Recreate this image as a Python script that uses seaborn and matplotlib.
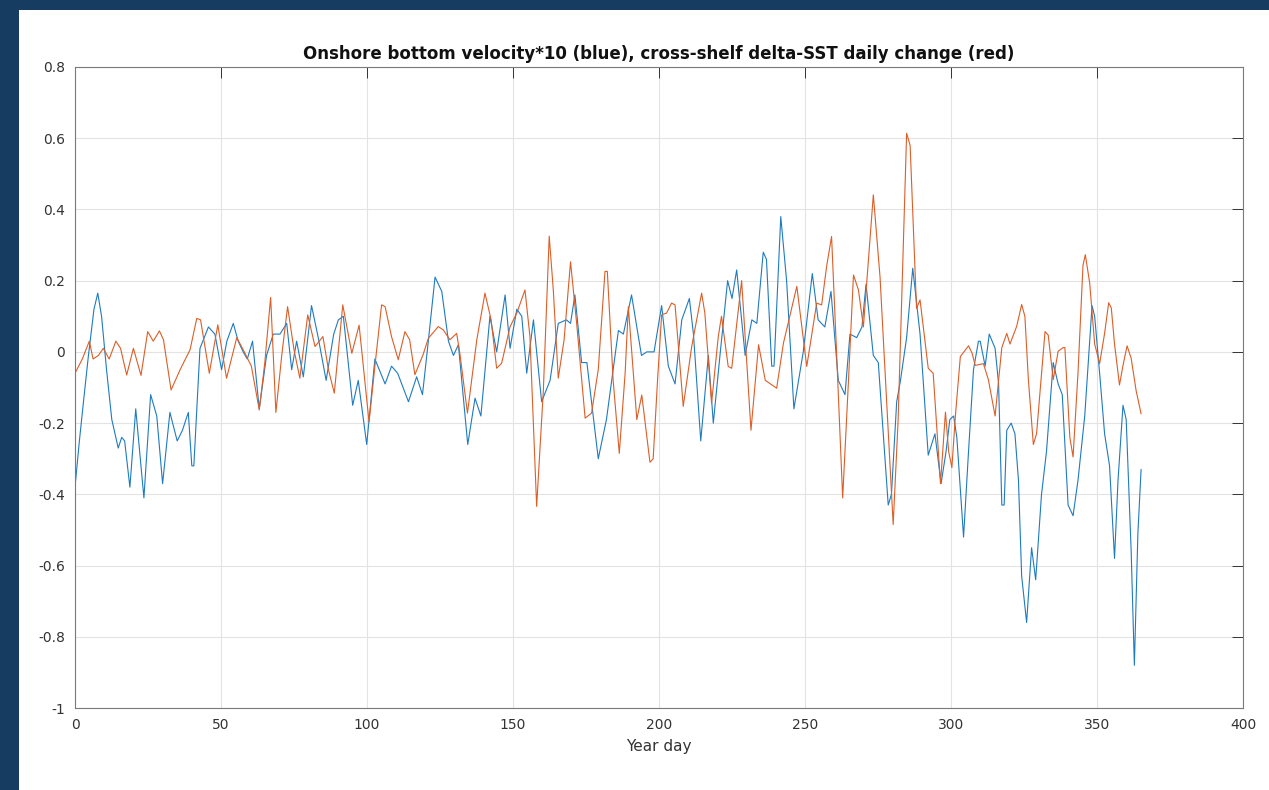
import numpy as np
import pandas as pd
import matplotlib
matplotlib.use("Agg")
import matplotlib.pyplot as plt
import seaborn as sns
from matplotlib.patches import Rectangle
from matplotlib.ticker import FuncFormatter

# ---------------- data ----------------
blue_day = [0, 1.5, 2.9, 4.6, 6.5, 7.8, 9.1, 10.8, 12.6, 14.8, 16, 17, 18.8, 20.8, 23.6, 25.9, 28, 30,
            32.5, 35, 36.8, 38.8, 40, 40.7, 42.8, 45.7, 47.9, 50.2, 52, 54.2, 55.9, 57.6, 59, 60.8,
            63.1, 65.6, 67.9, 70.2, 72.5, 74.2, 75.9, 78.2, 81, 83.3, 86, 88.6, 90.2, 91.9, 95.1, 97,
            99.9, 102.7, 106.2, 108.4, 110.5, 114.2, 117, 119, 121, 123.3, 125.6, 127.9, 129.6, 131.3,
            134.5, 137, 139, 142.1, 144.4, 147.3, 149, 151.3, 153, 154.7, 157, 159.8, 162.7, 165.5,
            168.3, 169.7, 171.2, 173.5, 175.3, 179.2, 182, 186.1, 187.8, 190.6, 194, 195.8, 198.3,
            200.9, 203.2, 205.5, 207.8, 210.4, 211.8, 214.3, 216.9, 218.6, 221, 223.5, 225, 226.6,
            229.5, 231.8, 233.5, 235.7, 236.8, 238.6, 239.4, 241.7, 243.7, 246.2, 249.4, 252.5, 254.5,
            256.8, 258.9, 261.4, 263.7, 265.4, 267.7, 269.5, 270.9, 273.4, 275.1, 278.5, 279.6, 281.4,
            282.7, 284.8, 286.9, 289.4, 292.2, 294.5, 296.6, 298.3, 299.6, 300.9, 302, 304.3, 306,
            307.7, 309.4, 310, 311.7, 313.1, 315.1, 316.3, 317.4, 318.2, 319.1, 320.6, 321.9, 323.1,
            324.2, 325.9, 327.6, 329, 331, 332.7, 335, 336.7, 338.1, 340.1, 341.8, 343.5, 345.8,
            348.3, 349.2, 350.9, 352.6, 354.3, 356, 357.2, 358.9, 360, 361.7, 362.8, 364, 365.1]
blue_val = [-0.38, -0.25, -0.14, -0.01, 0.12, 0.165, 0.10, -0.05, -0.19, -0.27, -0.24, -0.25, -0.38,
            -0.16, -0.41, -0.12, -0.18, -0.37, -0.17, -0.25, -0.22, -0.17, -0.32, -0.32, 0.01, 0.07,
            0.05, -0.05, 0.03, 0.08, 0.03, 0.0, -0.02, 0.03, -0.16, -0.01, 0.05, 0.05, 0.08, -0.05,
            0.03, -0.07, 0.13, 0.04, -0.08, 0.05, 0.09, 0.10, -0.15, -0.08, -0.26, -0.02, -0.09,
            -0.04, -0.06, -0.14, -0.07, -0.12, 0.03, 0.21, 0.17, 0.03, -0.01, 0.02, -0.26, -0.13,
            -0.18, 0.10, 0.0, 0.16, 0.01, 0.12, 0.10, -0.06, 0.09, -0.14, -0.08, 0.08, 0.09, 0.08,
            0.16, -0.03, -0.03, -0.30, -0.19, 0.06, 0.05, 0.16, -0.01, 0.0, 0.0, 0.13, -0.04, -0.09,
            0.09, 0.15, 0.05, -0.25, -0.01, -0.20, 0.0, 0.20, 0.15, 0.23, -0.01, 0.09, 0.08, 0.28,
            0.26, -0.04, -0.04, 0.38, 0.20, -0.16, 0.0, 0.22, 0.09, 0.07, 0.17, -0.08, -0.12, 0.05,
            0.04, 0.07, 0.19, -0.01, -0.03, -0.43, -0.40, -0.14, -0.08, 0.04, 0.235, 0.05, -0.29,
            -0.23, -0.37, -0.28, -0.19, -0.18, -0.24, -0.52, -0.28, -0.05, 0.03, 0.03, -0.04, 0.05,
            0.01, -0.09, -0.43, -0.43, -0.22, -0.20, -0.23, -0.36, -0.63, -0.76, -0.55, -0.64, -0.40,
            -0.28, -0.03, -0.09, -0.12, -0.43, -0.46, -0.36, -0.18, 0.13, 0.10, -0.06, -0.23, -0.32,
            -0.58, -0.36, -0.15, -0.19, -0.56, -0.88, -0.51, -0.33]

red_day = [0, 2.5, 4.9, 6.2, 8, 9.7, 11.7, 14, 15.6, 17.7, 20, 22.6, 24.9, 26.8, 28.9, 30.3, 32.9, 36,
           39.4, 41.7, 43, 46, 48.9, 51.9, 55.4, 57.6, 60.4, 63.1, 65, 67, 68.8, 70.8, 72.8, 75, 77,
           79.7, 82.2, 84.9, 86.8, 88.8, 91.7, 94.8, 97.3, 100.7, 102.7, 105, 106.2, 108.4, 110.7,
           113, 114.6, 116.4, 119.2, 121, 124.4, 126.1, 128.4, 130.7, 131.8, 134.4, 137.6, 140.4,
           142.5, 144.4, 146.1, 149, 151.3, 154.1, 155.8, 158.1, 160.4, 162.4, 163.8, 165.5, 167.5,
           169.7, 171.8, 174.7, 176.9, 179.2, 181.5, 182.3, 184.3, 186.4, 188.4, 189.5, 192.4, 194.1,
           196.9, 198, 199.5, 200.9, 202.6, 204.3, 205.5, 208.3, 211.2, 214.6, 215.7, 218, 220.3,
           221.4, 223.7, 224.9, 228.3, 231.5, 234.1, 236.4, 240.3, 242.6, 247.2, 250.6, 254, 255.7,
           257.4, 259.1, 260.8, 262.9, 264.8, 266.6, 268.3, 270, 273.4, 275.7, 280.2, 281.9, 284.8,
           286, 288.2, 289.4, 292.2, 293.9, 296.4, 298.1, 299.2, 300.3, 301.5, 303.2, 306, 307.2,
           308.3, 311.1, 312.8, 315.1, 317.4, 319.1, 320.2, 322.5, 324.2, 325.3, 326.5, 328.2, 329.3,
           332.2, 333.3, 335, 336.7, 338.4, 339, 340.7, 341.8, 343.5, 345.2, 346, 347.5, 349.2,
           350.9, 352.6, 354, 354.9, 356, 357.7, 358.9, 360.3, 361.7, 363.4, 365.1]
red_val = [-0.06, -0.02, 0.03, -0.02, -0.01, 0.01, -0.02, 0.03, 0.01, -0.065, 0.01, -0.066, 0.057,
           0.03, 0.059, 0.034, -0.107, -0.05, 0.006, 0.094, 0.09, -0.06, 0.076, -0.074, 0.04, 0.006,
           -0.04, -0.163, -0.03, 0.153, -0.17, -0.01, 0.127, 0.006, -0.074, 0.104, 0.015, 0.043,
           -0.05, -0.116, 0.132, -0.004, 0.075, -0.197, -0.04, 0.132, 0.127, 0.043, -0.022, 0.057,
           0.034, -0.064, -0.008, 0.038, 0.071, 0.062, 0.034, 0.052, -0.004, -0.172, 0.034, 0.165,
           0.09, -0.046, -0.032, 0.071, 0.109, 0.174, 0.043, -0.434, -0.107, 0.325, 0.174, -0.074,
           0.034, 0.253, 0.08, -0.186, -0.172, -0.05, 0.226, 0.226, -0.08, -0.285, -0.06, 0.127,
           -0.19, -0.121, -0.31, -0.30, -0.08, 0.104, 0.109, 0.137, 0.132, -0.153, 0.015, 0.165,
           0.109, -0.144, 0.043, 0.1, -0.041, -0.046, 0.2, -0.22, 0.02, -0.08, -0.102, 0.024, 0.184,
           -0.041, 0.137, 0.132, 0.24, 0.324, 0.0, -0.41, -0.096, 0.216, 0.174, 0.07, 0.441, 0.21,
           -0.485, -0.19, 0.614, 0.58, 0.122, 0.146, -0.046, -0.06, -0.37, -0.169, -0.28, -0.325,
           -0.18, -0.013, 0.017, -0.003, -0.038, -0.033, -0.078, -0.18, 0.012, 0.052, 0.022, 0.072,
           0.133, 0.10, -0.078, -0.26, -0.23, 0.057, 0.047, -0.078, 0.002, 0.012, 0.012, -0.24,
           -0.295, -0.058, 0.243, 0.273, 0.193, 0.022, -0.033, 0.052, 0.138, 0.123, 0.022, -0.093,
           -0.038, 0.017, -0.018, -0.109, -0.174]

title_text = "Onshore bottom velocity*10 (blue), cross-shelf delta-SST daily change (red)"
xlabel_text = "Year day"
xtick_values = [0, 50, 100, 150, 200, 250, 300, 350, 400]
ytick_values = [-1, -0.8, -0.6, -0.4, -0.2, 0, 0.2, 0.4, 0.6, 0.8]

# ---------------- style ----------------
sns.set_theme(style="white")
plt.rcParams["font.family"] = ["DejaVu Sans"]
plt.rcParams["axes.unicode_minus"] = False

W, H = 1269, 790
fig = plt.figure(figsize=(W / 100, H / 100), dpi=100, facecolor="#173c62")
fig.patches.append(Rectangle((19 / W, 0), 1 - 19 / W, 1 - 10 / H, transform=fig.transFigure,
                             facecolor="white", edgecolor="none", zorder=-10))

ax = fig.add_axes([75 / W, 1 - 708 / H, (1243 - 75) / W, (708 - 67) / H])
ax.set_zorder(5)
ax.set_facecolor("white")

df_blue = pd.DataFrame({"day": blue_day, "value": blue_val})
df_red = pd.DataFrame({"day": red_day, "value": red_val})

sns.lineplot(data=df_blue, x="day", y="value", color="#1f7bc0", linewidth=0.8,
             estimator=None, sort=False, ax=ax)
sns.lineplot(data=df_red, x="day", y="value", color="#dc5e28", linewidth=0.8,
             estimator=None, sort=False, ax=ax)

ax.set_xlim(0, 400)
ax.set_ylim(-1, 0.8)
ax.set_xticks(xtick_values)
ax.set_yticks(ytick_values)
ax.yaxis.set_major_formatter(FuncFormatter(lambda v, p: f"{v:g}"))
ax.grid(True, color="#e3e3e3", linewidth=0.8)
ax.set_axisbelow(True)

for s in ax.spines.values():
    s.set_color("#7a7a7a")
    s.set_linewidth(0.8)
    s.set_visible(True)

ax.tick_params(direction="in", top=True, right=True, length=8, width=0.7,
               color="#333333", labelcolor="#333333", labelsize=10, pad=7)

ax.set_title(title_text, fontsize=12, fontweight="bold", color="#111111", pad=6)
ax.set_xlabel(xlabel_text, fontsize=11, color="#333333", labelpad=5)
ax.set_ylabel("")

fig.savefig("out.png", dpi=100, facecolor=fig.get_facecolor())
